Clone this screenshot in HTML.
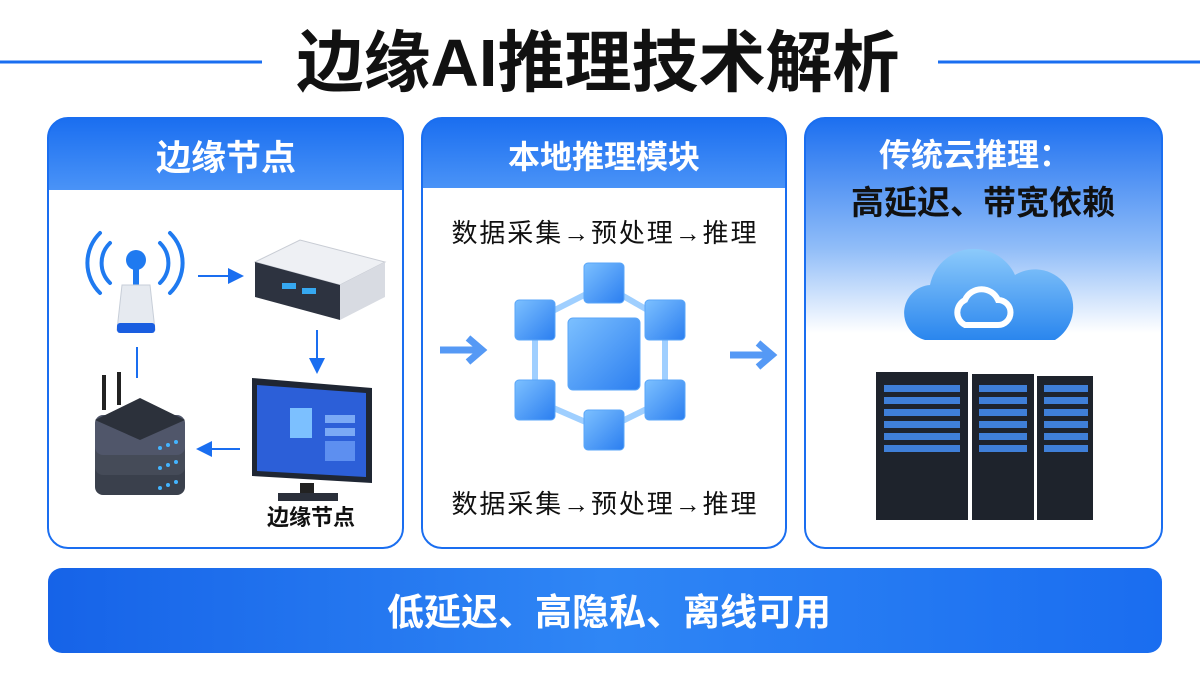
<!DOCTYPE html>
<html><head><meta charset="utf-8"><style>
html,body{margin:0;padding:0;background:#fff;}
svg{display:block;}
text{font-family:"Liberation Sans","Noto Sans CJK SC",sans-serif;}
</style></head><body>
<svg width="1200" height="675" viewBox="0 0 1200 675" xmlns="http://www.w3.org/2000/svg">
<defs>
<linearGradient id="hd" x1="0" y1="0" x2="0" y2="1"><stop offset="0" stop-color="#1a6ef0"/><stop offset="1" stop-color="#4a93f7"/></linearGradient>
<linearGradient id="rp" x1="0" y1="0" x2="0" y2="1"><stop offset="0" stop-color="#1c6ff0"/><stop offset="0.3" stop-color="#8fbcf8"/><stop offset="0.5" stop-color="#ffffff"/></linearGradient>
<linearGradient id="bar" x1="0" y1="0" x2="1" y2="0"><stop offset="0" stop-color="#1663e8"/><stop offset="0.5" stop-color="#2f86f5"/><stop offset="1" stop-color="#1a6df0"/></linearGradient>
<linearGradient id="cube" x1="0" y1="0" x2="1" y2="1"><stop offset="0" stop-color="#7cc0ff"/><stop offset="1" stop-color="#2b7ef0"/></linearGradient>
<linearGradient id="cloud" x1="0" y1="0" x2="0" y2="1"><stop offset="0" stop-color="#8ccafb"/><stop offset="1" stop-color="#2a86ee"/></linearGradient>
<clipPath id="c1"><rect x="48" y="118" width="355" height="430" rx="20"/></clipPath>
<clipPath id="c2"><rect x="422" y="118" width="364" height="430" rx="20"/></clipPath>
<marker id="ar" markerWidth="8" markerHeight="8" refX="6" refY="4" orient="auto"><path d="M0,0 L8,4 L0,8 z" fill="#1a6ef0"/></marker>
</defs>
<line x1="0" y1="62" x2="262" y2="62" stroke="#1a6ef0" stroke-width="3"/>
<line x1="938" y1="62" x2="1200" y2="62" stroke="#1a6ef0" stroke-width="3"/>
<text x="598" y="86" font-size="67" font-weight="bold" text-anchor="middle" fill="#111">边缘AI推理技术解析</text>

<g clip-path="url(#c1)"><rect x="48" y="118" width="355" height="430" fill="#fff"/><rect x="48" y="118" width="355" height="72" fill="url(#hd)"/></g>
<rect x="48" y="118" width="355" height="430" rx="20" fill="none" stroke="#1a6ef0" stroke-width="2"/>
<text x="226" y="170" font-size="35" font-weight="bold" text-anchor="middle" fill="#fff">边缘节点</text>
<g fill="none" stroke="#1f7af0" stroke-width="4" stroke-linecap="round">
<path d="M110,243 a28,28 0 0,0 0,40"/><path d="M100,233 a42,42 0 0,0 0,60"/>
<path d="M160,243 a28,28 0 0,1 0,40"/><path d="M170,233 a42,42 0 0,1 0,60"/></g>
<circle cx="136" cy="260" r="10" fill="#1f7af0"/>
<rect x="133" y="268" width="6" height="18" fill="#1f7af0"/>
<path d="M122,285 L150,285 L155,330 L117,330 z" fill="#e6eaf0" stroke="#c7ced8"/>
<rect x="117" y="323" width="38" height="10" rx="3" fill="#1a5ee0"/>
<path d="M255,262 L300,240 L385,262 L340,285 z" fill="#eef0f4" stroke="#c8ccd4"/>
<path d="M255,262 L340,285 L340,320 L255,297 z" fill="#2d3340"/>
<path d="M340,285 L385,262 L385,297 L340,320 z" fill="#d8dbe2"/>
<rect x="282" y="283" width="14" height="6" fill="#36a8f0"/><rect x="302" y="288" width="14" height="6" fill="#36a8f0"/>
<line x1="198" y1="276" x2="240" y2="276" stroke="#1a6ef0" stroke-width="2" marker-end="url(#ar)"/>
<line x1="317" y1="330" x2="317" y2="370" stroke="#1a6ef0" stroke-width="2" marker-end="url(#ar)"/>
<line x1="240" y1="449" x2="200" y2="449" stroke="#1a6ef0" stroke-width="2" marker-end="url(#ar)"/>
<line x1="137" y1="347" x2="137" y2="378" stroke="#1a6ef0" stroke-width="2"/>
<line x1="104" y1="375" x2="104" y2="410" stroke="#222" stroke-width="4"/><line x1="119" y1="372" x2="119" y2="405" stroke="#222" stroke-width="4"/>
<rect x="95" y="455" width="90" height="40" rx="8" fill="#3a404c"/>
<rect x="95" y="435" width="90" height="40" rx="8" fill="#454b58"/>
<rect x="95" y="415" width="90" height="40" rx="8" fill="#50566a"/>
<path d="M95,420 L140,398 L185,420 L140,440 z" fill="#2c313b"/>
<g fill="#43b4ff"><circle cx="160" cy="448" r="2"/><circle cx="168" cy="445" r="2"/><circle cx="176" cy="442" r="2"/><circle cx="160" cy="468" r="2"/><circle cx="168" cy="465" r="2"/><circle cx="176" cy="462" r="2"/><circle cx="160" cy="488" r="2"/><circle cx="168" cy="485" r="2"/><circle cx="176" cy="482" r="2"/></g>
<path d="M252,378 L372,388 L372,483 L252,476 z" fill="#1f2633"/>
<path d="M257,385 L366,393 L366,477 L257,471 z" fill="#2c5fd8"/>
<rect x="290" y="408" width="22" height="30" fill="#7cc0ff"/>
<rect x="325" y="415" width="30" height="8" fill="#7aa9f5"/><rect x="325" y="428" width="30" height="8" fill="#7aa9f5"/><rect x="325" y="441" width="30" height="20" fill="#5d8ff0"/>
<rect x="300" y="483" width="14" height="10" fill="#222"/><rect x="278" y="493" width="60" height="8" fill="#2a2f3a"/>
<text x="311" y="525" font-size="22" font-weight="bold" text-anchor="middle" fill="#111">边缘节点</text>

<g clip-path="url(#c2)"><rect x="422" y="118" width="364" height="430" fill="#fff"/><rect x="422" y="118" width="364" height="70" fill="url(#hd)"/></g>
<rect x="422" y="118" width="364" height="430" rx="20" fill="none" stroke="#1a6ef0" stroke-width="2"/>
<text x="604" y="168" font-size="32" font-weight="bold" text-anchor="middle" fill="#fff">本地推理模块</text>
<text x="604" y="242" font-size="26" text-anchor="middle" fill="#111" textLength="305">数据采集→预处理→推理</text>
<text x="604" y="513" font-size="26" text-anchor="middle" fill="#111" textLength="305">数据采集→预处理→推理</text>
<g stroke="#9fcfff" stroke-width="6">
<line x1="604" y1="285" x2="535" y2="320"/><line x1="604" y1="285" x2="665" y2="320"/><line x1="535" y1="320" x2="535" y2="400"/><line x1="665" y1="320" x2="665" y2="400"/><line x1="535" y1="400" x2="604" y2="430"/><line x1="665" y1="400" x2="604" y2="430"/></g>
<g fill="url(#cube)" stroke="#5aa6f8">
<rect x="584" y="263" width="40" height="40" rx="4"/><rect x="515" y="300" width="40" height="40" rx="4"/><rect x="645" y="300" width="40" height="40" rx="4"/>
<rect x="515" y="380" width="40" height="40" rx="4"/><rect x="645" y="380" width="40" height="40" rx="4"/><rect x="584" y="410" width="40" height="40" rx="4"/>
<rect x="568" y="318" width="72" height="72" rx="5"/></g>
<path d="M440,350 L480,350 M468,338 L482,350 L468,362" fill="none" stroke="#2a7ff2" stroke-width="7" opacity="0.8"/>
<path d="M730,355 L770,355 M758,343 L772,355 L758,367" fill="none" stroke="#2a7ff2" stroke-width="7" opacity="0.8"/>

<rect x="805" y="118" width="357" height="430" rx="20" fill="url(#rp)" stroke="#1a6ef0" stroke-width="2"/>
<text x="975" y="166" font-size="32" font-weight="bold" text-anchor="middle" fill="#fff">传统云推理：</text>
<text x="983" y="214" font-size="33" font-weight="bold" text-anchor="middle" fill="#111">高延迟、带宽依赖</text>
<path d="M925,340 a28,28 0 0,1 5,-55 a45,45 0 0,1 85,-10 a32,32 0 0,1 40,65 z" fill="url(#cloud)"/>
<path d="M965,325 a14,14 0 0,1 0,-25 a18,18 0 0,1 33,0 a12,12 0 0,1 0,25 z" fill="none" stroke="#fff" stroke-width="6"/>
<g fill="#1e232c"><rect x="876" y="372" width="92" height="148"/><rect x="972" y="374" width="62" height="146"/><rect x="1037" y="376" width="56" height="144"/></g>
<g fill="#3f7fd8">
<rect x="884" y="385" width="76" height="7"/><rect x="884" y="397" width="76" height="7"/><rect x="884" y="409" width="76" height="7"/><rect x="884" y="421" width="76" height="7"/><rect x="884" y="433" width="76" height="7"/><rect x="884" y="445" width="76" height="7"/>
<rect x="979" y="385" width="48" height="7"/><rect x="979" y="397" width="48" height="7"/><rect x="979" y="409" width="48" height="7"/><rect x="979" y="421" width="48" height="7"/><rect x="979" y="433" width="48" height="7"/><rect x="979" y="445" width="48" height="7"/>
<rect x="1044" y="385" width="44" height="7"/><rect x="1044" y="397" width="44" height="7"/><rect x="1044" y="409" width="44" height="7"/><rect x="1044" y="421" width="44" height="7"/><rect x="1044" y="433" width="44" height="7"/><rect x="1044" y="445" width="44" height="7"/></g>

<rect x="48" y="568" width="1114" height="85" rx="14" fill="url(#bar)"/>
<text x="609" y="625" font-size="37" font-weight="bold" text-anchor="middle" fill="#fff">低延迟、高隐私、离线可用</text>
</svg>
</body></html>
